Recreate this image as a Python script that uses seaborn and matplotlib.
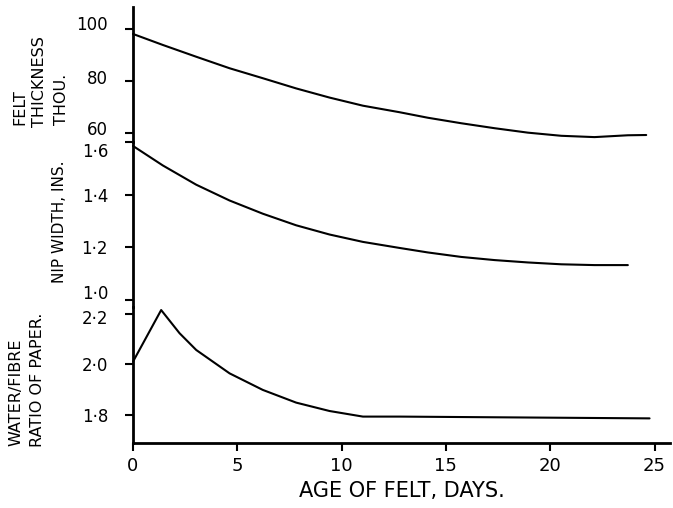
import matplotlib
matplotlib.use("Agg")
import matplotlib.pyplot as plt
import matplotlib.transforms as mtransforms
import seaborn as sns

# felt thickness (thou.) against age of felt (days)
thick_days = [0, 1.43, 3.03, 4.63, 6.22, 7.82, 9.42, 11.02, 12.78, 14.13, 15.73, 17.33, 18.93, 20.53, 22.12, 23.72, 24.6]
thick_vals = [98.0, 93.8, 89.3, 84.9, 81.1, 77.2, 73.7, 70.6, 68.1, 66.0, 63.9, 62.0, 60.3, 59.1, 58.6, 59.3, 59.4]

# nip width (ins.)
nip_days = [0, 1.43, 3.03, 4.63, 6.22, 7.82, 9.42, 11.02, 12.78, 14.13, 15.73, 17.33, 18.93, 20.53, 22.12, 23.72]
nip_vals = [1.585, 1.511, 1.438, 1.378, 1.328, 1.284, 1.249, 1.221, 1.198, 1.181, 1.164, 1.152, 1.143, 1.136, 1.133, 1.133]

# water/fibre ratio of paper
ratio_days = [0, 1.35, 2.23, 3.03, 4.63, 6.22, 7.82, 9.42, 11.02, 12.78, 24.76]
ratio_vals = [2.011, 2.214, 2.123, 2.057, 1.965, 1.900, 1.850, 1.817, 1.795, 1.795, 1.788]

x_ticks = [0, 5, 10, 15, 20, 25]
thick_ticks = [60, 80, 100]
nip_ticks = [1.0, 1.2, 1.4, 1.6]
ratio_ticks = [1.8, 2.0, 2.2]

sns.set_style("ticks", rc={"axes.edgecolor": "black", "text.color": "black",
                           "axes.labelcolor": "black", "xtick.color": "black",
                           "ytick.color": "black"})
plt.rcParams["font.family"] = ["DejaVu Sans"]

fig = plt.figure(figsize=(6.73, 5.08), dpi=100)
W, H = 673.0, 508.0
left, right = 133 / W, (670 - 133) / W

def panel(top_px, bot_px):
    return fig.add_axes([left, 1 - bot_px / H, right, (bot_px - top_px) / H])

ax1 = panel(7, 142)
ax2 = panel(142, 307)
ax3 = panel(307, 443.3)

sns.lineplot(x=thick_days, y=thick_vals, ax=ax1, color="black", linewidth=1.5)
sns.lineplot(x=nip_days, y=nip_vals, ax=ax2, color="black", linewidth=1.5)
sns.lineplot(x=ratio_days, y=ratio_vals, ax=ax3, color="black", linewidth=1.5)

ax1.set_ylim(56.73, 108.3)
ax2.set_ylim(0.974, 1.598)
ax3.set_ylim(1.690, 2.226)

ax1.set_yticks(thick_ticks)
ax1.set_yticklabels([str(t) for t in thick_ticks])
ax2.set_yticks(nip_ticks)
ax2.set_yticklabels([f"{t:.1f}".replace(".", "·") for t in nip_ticks])
ax3.set_yticks(ratio_ticks)
ax3.set_yticklabels([f"{t:.1f}".replace(".", "·") for t in ratio_ticks])

for ax in (ax1, ax2, ax3):
    ax.set_xlim(0, 25.74)
    ax.set_facecolor("none")
    for s in ("top", "right"):
        ax.spines[s].set_visible(False)
    ax.spines["left"].set_linewidth(2)
    ax.tick_params(axis="y", direction="out", length=6, width=1.5, labelsize=12, pad=12)
    ax.set_ylabel("")
    for line in ax.lines:
        line.set_clip_on(False)

for ax in (ax1, ax2):
    ax.spines["bottom"].set_visible(False)
    ax.tick_params(axis="x", bottom=False, labelbottom=False)

ax3.spines["bottom"].set_linewidth(2)
ax3.set_xticks(x_ticks)
ax3.set_xticklabels([str(t) for t in x_ticks])
ax3.tick_params(axis="x", direction="out", length=6, width=1.5, labelsize=13, pad=4)
ax3.set_xlabel("AGE OF FELT, DAYS.", fontsize=15, labelpad=4)

# the hand-drawn labels sit a little off their ticks where panels meet
def nudge(ax, shifts):
    for lab, dy in zip(ax.get_yticklabels(), shifts):
        lab.set_transform(lab.get_transform() +
                          mtransforms.ScaledTranslation(0, dy / 100, fig.dpi_scale_trans))

nudge(ax1, [5, 4, 6])
nudge(ax2, [8, 0, 0, -8])
nudge(ax3, [0, 0, -3])

# hand-lettered axis titles on the left
def ylab(txt, x_px, y_px, size, va="bottom"):
    fig.text(x_px / W, 1 - y_px / H, txt, rotation=90, ha="center", va=va, fontsize=size)

ylab("FELT", 20, 125, 11.5)
ylab("THICKNESS", 40, 127, 11.5)
ylab("THOU.", 62, 125, 11.5)
ylab("NIP WIDTH, INS.", 60, 222, 11, va="center")
ylab("WATER/FIBRE", 16, 446, 11.5)
ylab("RATIO OF PAPER.", 38, 447, 11.5)

fig.savefig("out.png", dpi=100)
